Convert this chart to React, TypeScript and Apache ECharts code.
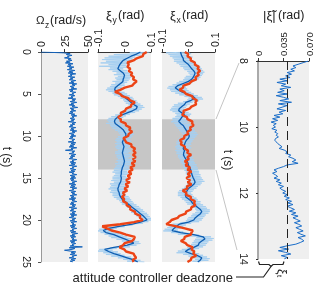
import React, { useEffect, useRef } from "react";
import * as echarts from "echarts";

// ---------- data ----------
// angular rate Ω_z (rad/s), sampled every 0.1 s from t = 0
const OMEGA_STEP = 0.1;
const omegaZ = [
  0, 24, 31, 27, 33, 28, 30, 25, 32, 29,
  33, 27, 31, 26, 34, 29, 32, 28, 35, 30,
  33, 28, 36, 30, 34, 29, 37, 31, 33, 29,
  36, 31, 34, 30, 37, 32, 35, 30, 38, 33,
  36, 31, 35, 32, 38, 30, 34, 31, 37, 33,
  35, 30, 36, 32, 34, 29, 37, 33, 36, 31,
  38, 32, 35, 30, 36, 33, 39, 31, 35, 32,
  37, 31, 34, 30, 36, 32, 38, 33, 35, 31,
  36, 32, 35, 29, 37, 33, 36, 31, 34, 30,
  37, 32, 35, 31, 38, 33, 36, 30, 35, 32,
  37, 31, 34, 30, 36, 33, 35, 29, 37, 32,
  36, 31, 35, 30, 38, 32, 34, 26, 36, 33,
  35, 30, 37, 32, 36, 31, 34, 30, 38, 33,
  35, 31, 37, 32, 36, 30, 38, 33, 35, 31,
  37, 32, 36, 30, 35, 33, 38, 31, 36, 32,
  37, 31, 35, 32, 38, 33, 36, 30, 37, 32,
  36, 31, 38, 33, 35, 30, 37, 32, 36, 33,
  38, 31, 35, 32, 37, 30, 36, 33, 38, 32,
  35, 31, 37, 33, 36, 30, 38, 32, 35, 31,
  37, 33, 36, 31, 38, 32, 35, 30, 37, 33,
  36, 31, 38, 32, 35, 33, 37, 31, 36, 32,
  38, 33, 35, 31, 37, 32, 39, 33, 36, 31,
  37, 32, 35, 33, 38, 31, 36, 32, 37, 33,
  35, 31, 44, 30, 36, 33, 25, 31, 37, 32,
  36, 31, 38, 33, 35, 30, 37, 32, 36, 31,
  34,
];

// raw attitude samples (mrad), every 0.1 s (light blue)
const LIGHT_STEP = 0.1;
const xiYRaw = [
  95, 20, 80, -40, 60, -60, 40, -75, 30, -85,
  30, -70, 15, -90, 20, -60, 5, -95, 10, -55,
  -5, -60, 10, -45, 15, -30, 25, -40, 30, -25,
  25, -35, 20, -30, 15, -45, 10, -35, 0, -50,
  0, -55, -10, -65, -5, -70, -15, -60, 0, -45,
  10, -40, 20, -25, 30, -15, 35, -5, 45, 0,
  50, 5, 60, 15, 70, 25, 75, 20, 65, 10,
  55, 0, 40, -20, 20, -35, 5, -50, -5, -60,
  -10, -65, -15, -60, -5, -70, -10, -55, 0, -50,
  10, -45, 15, -35, 25, -25, 30, -20, 35, -15,
  30, -25, 25, -30, 20, -35, 25, -30, 15, -35,
  20, -30, 25, -35, 15, -30, 20, -25, 25, -35,
  15, -35, 20, -30, 25, -30, 15, -25, 30, -30,
  25, -25, 30, -35, 20, -30, 15, -35, 20, -40,
  15, -40, 10, -45, 15, -35, 10, -40, 5, -45,
  10, -45, 15, -50, 5, -40, 10, -55, 0, -50,
  5, -55, 0, -60, 5, -50, 10, -55, 0, -45,
  5, -45, 15, -40, 20, -30, 25, -20, 30, -15,
  35, -10, 45, 5, 55, 10, 60, 20, 70, 25,
  75, 25, 85, 35, 90, 45, 95, 55, 100, 60,
  100, 55, 90, 40, 70, 10, 30, -35, 0, -60,
  -30, -95, -45, -100, -40, -90, -20, -75, -5, -60,
  10, -50, 25, -30, 40, -10, 55, 5, 60, 15,
  45, -20, 20, -55, -30, -95, -45, -100, -25, -80,
  -15, -70, 0, -50, 25, -25, 45, -5, 60, 10,
  75,
];
const xiXRaw = [
  5, -85, 10, -75, 0, -70, 15, -60, 10, -55,
  15, -55, 25, -45, 30, -35, 40, -30, 45, -20,
  50, -15, 55, -5, 60, 0, 55, 5, 50, -10,
  45, -15, 40, -20, 30, -35, 15, -45, 5, -60,
  -15, -75, -10, -80, -5, -70, 0, -65, 10, -50,
  20, -35, 35, -15, 50, 0, 55, -5, 40, -20,
  15, -40, 5, -55, -5, -60, -10, -65, -15, -70,
  -10, -60, 0, -50, 10, -45, 5, -50, -5, -60,
  -5, -60, 0, -65, -5, -55, 5, -50, 10, -45,
  15, -40, 20, -35, 25, -30, 30, -25, 35, -20,
  30, -25, 25, -35, 20, -40, 15, -45, 10, -45,
  10, -45, 5, -50, 10, -45, 0, -50, 5, -45,
  5, -45, 10, -40, 15, -40, 15, -35, 20, -30,
  20, -30, 25, -25, 30, -20, 30, -20, 35, -15,
  35, -15, 40, -10, 40, -10, 45, -5, 45, -5,
  50, -5, 55, 0, 60, 5, 50, -5, 45, -10,
  35, -15, 30, -25, 20, -35, 15, -40, 10, -40,
  15, -40, 20, -30, 30, -25, 35, -15, 45, -10,
  45, -5, 55, 10, 65, 20, 70, 25, 80, 30,
  80, 25, 75, 15, 65, 10, 60, 0, 55, -5,
  50, -10, 40, -30, 10, -60, -10, -75, -20, -80,
  -30, -90, -40, -95, -20, -65, 10, -40, 40, -10,
  85, 30, 95, 25, 90, 20, 75, 15, 70, 10,
  65, 10, 55, -5, 40, -25, 25, -40, 15, -45,
  40, -20, 55, 0, 70, 20, 80, 25, 75, 15,
  45,
];

// estimates (mrad), every 0.25 s
const EST_STEP = 0.25;
const xiYEst = [
  60, 45, 25, 10, -5, -12, -18, -22, -25, -15, -5, 0, -2, -5, -6, -15,
  -25, -35, -37, -30, -15, -5, 5, 15, 25, 35, 48, 45, 30, 10, -10, -25,
  -35, -38, -35, -25, -15, -5, 0, 5, 5, 0, -5, -8, -5, -2, -4, -6,
  -8, -6, -4, -2, 0, -2, -4, -8, -10, -12, -12, -14, -12, -13, -15, -20,
  -22, -25, -24, -20, -19, -15, -10, 0, 10, 20, 30, 40, 50, 60, 70, 78,
  85, 60, 30, -20, -60, -80, -70, -40, -20, 0, 20, 35, 10, -40, -75, -60,
  -40, -15, 10, 35, 50,
];
const xiYRef = [
  84, 71, 69, 46, 34, 11, 16, 11, 22, 16, 29, 24, 36, 32, 46, 36,
  29, 1, -16, -36, -16, -9, 14, 21, 39, 26, 24, 6, 2, -14, -11, -24,
  -14, -14, 4, 6, 22, 18, 29, 16, 14, -4, 2, 6, 26, 26, 40, 34,
  42, 32, 42, 32, 41, 27, 38, 22, 31, 16, 26, 12, 21, 6, 20, 4,
  14, 0, 10, -6, 0, -10, -1, -6, 9, 8, 22, 21, 39, 41, 59, 58,
  69, 36, -16, -84, -66, -49, -16, 6, 39, 36, 29, 1, -6, -19, -1, 6,
  34, 38, 44, 31, 34,
];
const xiXEst = [
  -30, -28, -25, -20, -19, -10, 0, 6, 12, 20, 25, 22, 18, 12, 0, -20,
  -40, -50, -40, -25, -5, 15, 25, 10, -10, -15, -25, -35, -37, -25, -15, -25,
  -30, -37, -30, -20, -15, -10, -5, 0, 3, 0, -8, -12, -15, -18, -20, -15,
  -18, -19, -15, -10, -5, -2, 0, 5, 8, 10, 12, 15, 18, 22, 25, 20,
  10, 0, -5, -10, -12, -10, 0, 10, 15, 25, 35, 45, 50, 45, 35, 25,
  20, 0, -35, -45, -55, -62, -30, 20, 55, 62, 50, 40, 37, 20, 0, -12,
  10, 35, 50, 45, 35,
];
const xiXRef = [
  -14, -1, -4, 9, 8, 24, 24, 39, 34, 44, 34, 39, 26, 29, 11, 4,
  -19, -21, -34, -16, -9, 14, 16, 32, 26, 29, 11, 4, -19, -18, -24, -6,
  -4, 14, 14, 19, 6, 9, -4, -1, -16, -16, -32, -26, -29, -14, -14, -1,
  -5, 10, -4, 1, -14, -4, -11, 6, -4, 11, -3, 6, -8, 6, -3, 11,
  -6, -4, -22, -8, -9, 9, 8, 24, 21, 26, 11, 9, -9, -11, -34, -41,
  -64, -71, -84, -46, -14, 16, 11, 9, -14, -16, -29, -11, -4, 16, 11, 22,
  18, 29, 11, 9, -4,
];

// |ξ| (mrad) zoomed window 8–14 s, every 0.05 s
const ZOOM_START = 8;
const ZOOM_STEP = 0.05;
const xiNorm = [
  69, 62, 55, 48, 52, 45, 50, 40, 46, 38,
  44, 30, 40, 26, 38, 32, 45, 30, 36, 27,
  40, 25, 35, 42, 30, 46, 28, 40, 33, 26,
  38, 29, 34, 22, 30, 20, 27, 18, 25, 21,
  24, 19, 26, 23, 27, 25, 28, 24, 23, 25,
  27, 30, 33, 29, 36, 40, 38, 45, 42, 48,
  52, 47, 55, 40, 35, 28, 22, 26, 20, 24,
  27, 22, 30, 25, 32, 28, 35, 30, 33, 38,
  34, 40, 36, 43, 38, 46, 41, 48, 40, 45,
  50, 43, 52, 46, 55, 48, 53, 58, 50, 56,
  60, 52, 57, 62, 54, 59, 65, 55, 60, 63,
  58, 52, 40, 30, 42, 28, 38, 45, 32, 40,
  36,
];

const DEADZONE = 0.035;
const SHADE = [8, 14];
const OMEGA_RANGE = [0, 50, 25];
const XI_RANGE = [-0.1, 0.1, 0.1];
const NORM_RANGE = [0, 0.07, 0.035];
const T_RANGE = [0, 25, 5];
const ZOOM_T_RANGE = [8, 14, 2];

// ---------- helpers ----------
const FONT = "'Liberation Sans', Arial, Helvetica, sans-serif";
const toPts = (arr: number[], step: number, scale = 1, t0 = 0) =>
  arr.map((v, i) => [v * scale, t0 + i * step]);

const topAxis = (gridIndex: number, r: number[], extra: any = {}) => ({
  type: "value",
  gridIndex,
  position: "top",
  min: r[0],
  max: r[1],
  interval: r[2],
  axisLine: { show: true, onZero: false, lineStyle: { color: "#333", width: 1 } },
  axisTick: { show: true, length: 3, lineStyle: { color: "#333" } },
  axisLabel: { rotate: -90, margin: 5, fontSize: 10.5, color: "#222", fontFamily: FONT },
  splitLine: { show: false },
  ...extra,
});

const timeAxis = (gridIndex: number, r: number[], shown: boolean, extra: any = {}) => ({
  type: "value",
  gridIndex,
  inverse: true,
  min: r[0],
  max: r[1],
  interval: r[2],
  axisLine: { show: shown, onZero: false, lineStyle: { color: "#999", width: 1 } },
  axisTick: { show: shown, length: 3, lineStyle: { color: "#555" } },
  axisLabel: { show: shown, rotate: -90, margin: 9, fontSize: 10.5, color: "#222", fontFamily: FONT },
  splitLine: { show: false },
  name: shown ? "t (s)" : "",
  nameLocation: "middle",
  nameRotate: -90,
  nameGap: 28,
  nameTextStyle: { fontSize: 12, color: "#222", fontFamily: FONT },
  ...extra,
});

const T = (text: string, x: number, y: number, size: number, extra: any = {}) => ({
  type: "text",
  x,
  y,
  silent: true,
  style: { text, fontSize: size, fontFamily: FONT, fill: "#222", verticalAlign: "middle", ...extra },
});

const line = (data: number[][], xi: number, color: string, width: number, z: number, extra: any = {}) => ({
  type: "line",
  xAxisIndex: xi,
  yAxisIndex: xi,
  data,
  showSymbol: false,
  symbol: "none",
  silent: true,
  z,
  lineStyle: { color, width },
  ...extra,
});

const shade = (xi: number) => ({
  type: "line",
  xAxisIndex: xi,
  yAxisIndex: xi,
  data: [],
  z: 1,
  silent: true,
  markArea: {
    silent: true,
    itemStyle: { color: "#c6c6c6" },
    data: [[{ yAxis: SHADE[0] }, { yAxis: SHADE[1] }]],
  },
});

const LIGHT = "#a6cff0";
const DARK = "#0c5cb0";
const RED = "#ec4416";

export default function App() {
  const ref = useRef<HTMLDivElement>(null);
  useEffect(() => {
    const chart = echarts.init(ref.current!, null, { renderer: "svg" });
    const gridBase = { show: true, backgroundColor: "#efefef", borderWidth: 0 };
    const option: any = {
      animation: false,
      grid: [
        { ...gridBase, left: 36, top: 52, width: 52, height: 210 },
        { ...gridBase, left: 98, top: 52, width: 53, height: 210 },
        { ...gridBase, left: 162, top: 52, width: 53, height: 210 },
        { ...gridBase, left: 258, top: 61, width: 51, height: 198 },
      ],
      xAxis: [
        topAxis(0, OMEGA_RANGE),
        topAxis(1, XI_RANGE),
        topAxis(2, XI_RANGE),
        topAxis(3, NORM_RANGE, {
          axisLabel: {
            rotate: -90,
            margin: 5,
            fontSize: 9.5,
            color: "#222",
            fontFamily: FONT,
            formatter: (v: number) => (v === 0 ? "{z|0}" : "{p|" + v.toFixed(3) + "}"),
            rich: {
              z: { fontSize: 9.5, fontFamily: FONT, color: "#222" },
              p: { fontSize: 9.5, fontFamily: FONT, color: "#222", padding: [0, 8, 0, 0] },
            },
          },
        }),
      ],
      yAxis: [
        timeAxis(0, T_RANGE, true),
        timeAxis(1, T_RANGE, false),
        timeAxis(2, T_RANGE, false),
        timeAxis(3, ZOOM_T_RANGE, true, {
          axisLine: { show: true, onZero: false, lineStyle: { color: "#aaa", width: 2 } },
          axisTick: { show: true, length: 2, lineStyle: { color: "#333" } },
          nameGap: 24,
        }),
      ],
      series: [
        line(toPts(omegaZ, OMEGA_STEP), 0, "#1463bb", 1, 3),
        shade(1),
        line(toPts(xiYRaw, LIGHT_STEP, 0.001), 1, LIGHT, 1, 2),
        line(toPts(xiYEst, EST_STEP, 0.001), 1, DARK, 1.3, 3),
        line(toPts(xiYRef, EST_STEP, 0.001), 1, RED, 2.4, 4),
        shade(2),
        line(toPts(xiXRaw, LIGHT_STEP, 0.001), 2, LIGHT, 1, 2),
        line(toPts(xiXEst, EST_STEP, 0.001), 2, DARK, 1.3, 3),
        line(toPts(xiXRef, EST_STEP, 0.001), 2, RED, 2.4, 4),
        line(toPts(xiNorm, ZOOM_STEP, 0.001, ZOOM_START), 3, "#1a6dc8", 1, 3, {
          markLine: {
            silent: true,
            symbol: ["none", "none"],
            label: { show: false },
            lineStyle: { type: [9, 5], color: "#222", width: 1 },
            data: [{ xAxis: DEADZONE }],
          },
        }),
      ],
      graphic: [
        T("Ω", 36, 20, 11.5),
        T("z", 45, 25, 8.5),
        T("(rad/s)", 50, 20, 12.5),
        T("ξ", 106, 15, 13),
        T("y", 112.5, 20, 8.5),
        T("(rad)", 118, 15, 12.5),
        T("ξ", 170, 15, 13),
        T("x", 176.5, 20, 8.5),
        T("(rad)", 182, 15, 12.5),
        T("|ξ̃|", 263, 15, 13),
        T("(rad)", 278, 15, 12.5),
        T("attitude controller deadzone", 233, 277, 13, { align: "right" }),
        {
          type: "group",
          x: 282,
          y: 269,
          rotation: -Math.PI / 2,
          children: [T("ξ", 0, 0, 12), T("t", 6, 3, 8)],
        },
        { type: "line", silent: true, shape: { x1: 216, y1: 119, x2: 239, y2: 63 }, style: { stroke: "#c4c4c4", lineWidth: 1 } },
        { type: "line", silent: true, shape: { x1: 216, y1: 170, x2: 237, y2: 250 }, style: { stroke: "#c4c4c4", lineWidth: 1 } },
        {
          type: "polyline",
          silent: true,
          shape: { points: [[258.5, 261.5], [259.5, 264.5], [269, 264.5], [271, 266.5], [273, 264.5], [283, 264.5], [284, 261.5]] },
          style: { stroke: "#222", lineWidth: 1.2, fill: null },
        },
        {
          type: "polyline",
          silent: true,
          shape: { points: [[271, 266.5], [263.5, 277], [236, 277]] },
          style: { stroke: "#222", lineWidth: 1.2, fill: null },
        },
      ],
    };
    chart.setOption(option);
    return () => chart.dispose();
  }, []);
  return <div ref={ref} style={{ position: "fixed", left: 0, top: 0, width: 317, height: 289 }} />;
}
